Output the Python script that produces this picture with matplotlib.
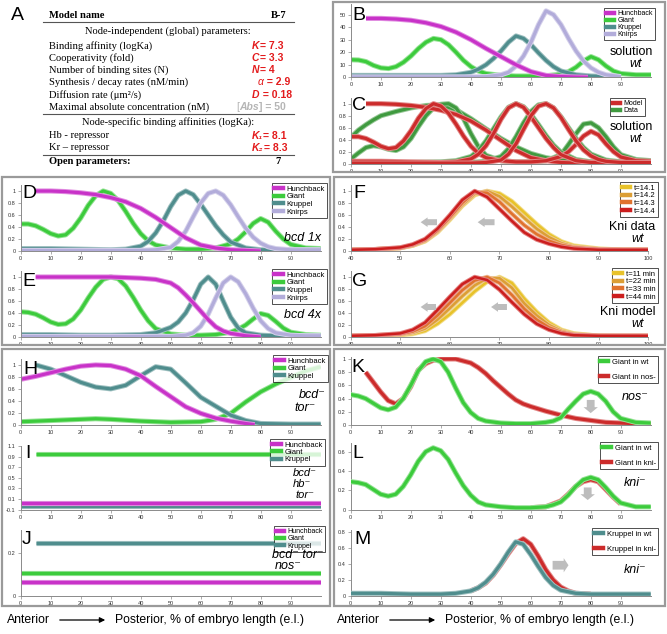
import matplotlib
matplotlib.use('Agg')
import matplotlib.pyplot as plt
import matplotlib.patheffects as pe
import matplotlib.colors as mcolors
from matplotlib.lines import Line2D
from matplotlib.patches import Rectangle, FancyArrow, FancyArrowPatch
from matplotlib.ticker import FuncFormatter

plt.rcParams['font.family'] = ['Liberation Sans', 'DejaVu Sans']

# colours
HB = '#C832C8'
GT = '#3CCB3C'
KR = '#4F8D8D'
KNI = '#B2ACDA'
RED = '#CC2B2B'
DGREEN = '#3F9A3F'
T1, T2, T3, T4 = '#E8C22A', '#DC9E35', '#E0722E', '#CC1E1E'

# ---------------- data ----------------
# B: wt solution, nM
b_hb_x = [5, 10, 15, 20, 25, 30, 35, 40, 45, 50, 55, 60, 65, 70, 75, 79]
b_hb_y = [47, 47, 46.5, 45.5, 43.5, 40.5, 36, 30, 23, 16.5, 10, 4.5, 1.5, 0.6, 0.2, 0]
b_gt_x = [0, 2.5, 5, 7.5, 10, 12.5, 15, 17.5, 20, 22.5, 25, 27.5, 30, 32.5, 35, 37.5, 40, 42.5, 45, 50,
          55, 60, 65, 70, 72.5, 75, 77.5, 80, 82.5, 85, 87.5, 90, 95, 100]
b_gt_y = [14, 13.8, 12.5, 9.5, 7.5, 7, 8.5, 12, 17, 23, 28, 31, 30, 26, 20, 13.5, 8.5, 5, 3, 1.5,
          1, 1, 1.2, 2.5, 4.5, 8, 13, 16.5, 14, 9, 5, 3, 2, 2]
b_kr_x = [0, 10, 20, 30, 35, 40, 42.5, 45, 47.5, 50, 52.5, 55, 57.5, 60, 62.5, 65, 67.5, 70, 75, 80, 85, 90]
b_kr_y = [1.5, 1.5, 1.5, 1.5, 2, 4, 6.5, 10, 15, 21, 28, 33, 31, 26, 19.5, 13.5, 8.5, 5, 2, 1, 0.6, 0.5]
b_kni_x = [0, 10, 20, 30, 40, 45, 50, 52.5, 55, 57.5, 60, 62.5, 65, 67.5, 70, 72.5, 75, 77.5, 80, 82.5, 85, 90]
b_kni_y = [0.3, 0.3, 0.3, 0.3, 0.3, 0.5, 2, 4, 9, 17, 28, 42, 53, 50, 42, 31, 21, 13, 7.5, 4, 2, 0.5]

# C: model (normalised) vs data
cm_hb_x = [5, 10, 15, 20, 25, 30, 35, 40, 45, 50, 55, 60, 65, 70, 75, 80]
cm_hb_y = [1.0, 1.0, 0.99, 0.97, 0.94, 0.89, 0.82, 0.71, 0.56, 0.39, 0.22, 0.1, 0.05, 0.02, 0.01, 0]
cm_gt_x = [0, 2.5, 5, 7.5, 10, 12.5, 15, 17.5, 20, 22.5, 25, 27.5, 30, 32.5, 35, 37.5, 40, 42.5, 45, 50,
           55, 60, 65, 70, 72.5, 75, 77.5, 80, 82.5, 85, 87.5, 90, 95, 100]
cm_gt_y = [0.45, 0.45, 0.42, 0.36, 0.29, 0.25, 0.27, 0.38, 0.55, 0.76, 0.92, 1.0, 0.96, 0.84, 0.66, 0.46,
           0.29, 0.17, 0.1, 0.05, 0.03, 0.03, 0.05, 0.12, 0.2, 0.32, 0.46, 0.54, 0.48, 0.33, 0.2, 0.11, 0.05, 0.04]
cm_kr_x = [0, 10, 20, 30, 35, 40, 42.5, 45, 47.5, 50, 52.5, 55, 57.5, 60, 62.5, 65, 67.5, 70, 75, 80, 85, 90, 100]
cm_kr_y = [0.04, 0.04, 0.03, 0.02, 0.03, 0.08, 0.16, 0.3, 0.5, 0.74, 0.93, 1.0, 0.94, 0.78, 0.6, 0.42, 0.27,
           0.15, 0.05, 0.02, 0.02, 0.02, 0.02]
cm_kni_x = [0, 10, 20, 30, 40, 45, 50, 52.5, 55, 57.5, 60, 62.5, 65, 67.5, 70, 72.5, 75, 77.5, 80, 82.5, 85,
            90, 95, 100]
cm_kni_y = [0.01, 0.01, 0.01, 0.01, 0.01, 0.02, 0.06, 0.16, 0.33, 0.57, 0.8, 0.96, 1.0, 0.93, 0.77, 0.57,
            0.38, 0.23, 0.13, 0.07, 0.04, 0.02, 0.02, 0.02]
cd_hb_x = [0, 2.5, 5, 7.5, 10, 15, 20, 25, 30, 35, 40, 45, 50, 55, 60, 65, 70, 75, 80, 90, 100]
cd_hb_y = [0.44, 0.56, 0.65, 0.73, 0.8, 0.87, 0.93, 0.97, 0.98, 0.9, 0.75, 0.58, 0.42, 0.28, 0.17, 0.1, 0.06,
           0.04, 0.03, 0.03, 0.03]
cd_gt_x = [0, 2.5, 5, 7.5, 10, 12.5, 15, 17.5, 20, 22.5, 25, 27.5, 30, 32.5, 35, 37.5, 40, 42.5, 45, 50,
           55, 60, 65, 70, 72.5, 75, 77.5, 80, 82.5, 85, 87.5, 90, 95, 100]
cd_gt_y = [0.08, 0.18, 0.27, 0.3, 0.28, 0.24, 0.22, 0.28, 0.42, 0.62, 0.8, 0.93, 0.99, 1.0, 0.93, 0.75,
           0.5, 0.28, 0.14, 0.05, 0.03, 0.03, 0.05, 0.15, 0.32, 0.5, 0.66, 0.68, 0.6, 0.45, 0.28, 0.15, 0.07, 0.05]
cd_kr_x = [0, 10, 20, 30, 35, 40, 42.5, 45, 47.5, 50, 52.5, 55, 57.5, 60, 62.5, 65, 67.5, 70, 75, 80, 90, 100]
cd_kr_y = [0.02, 0.02, 0.02, 0.03, 0.05, 0.12, 0.22, 0.38, 0.58, 0.78, 0.94, 1.0, 0.95, 0.82, 0.65, 0.47,
           0.31, 0.19, 0.07, 0.03, 0.02, 0.02]
cd_kni_x = [0, 10, 20, 30, 40, 45, 50, 52.5, 55, 57.5, 60, 62.5, 65, 67.5, 70, 72.5, 75, 77.5, 80, 85, 90, 100]
cd_kni_y = [0.02, 0.02, 0.02, 0.02, 0.02, 0.04, 0.12, 0.25, 0.45, 0.68, 0.87, 0.98, 1.0, 0.93, 0.78, 0.6,
            0.42, 0.27, 0.16, 0.06, 0.03, 0.02]

# E: bcd 4x
e_hb_x = [5, 10, 20, 30, 35, 40, 45, 50, 52.5, 55, 57.5, 60, 62.5, 65, 67.5, 70, 75, 80]
e_hb_y = [1.0, 1.0, 1.0, 1.0, 0.99, 0.98, 0.96, 0.9, 0.82, 0.7, 0.57, 0.43, 0.29, 0.17, 0.1, 0.06, 0.02, 0]
e_gt_x = cm_gt_x
e_gt_y = [0.42, 0.41, 0.38, 0.32, 0.25, 0.21, 0.22, 0.3, 0.45, 0.65, 0.83, 0.96, 1.0, 0.97, 0.85, 0.66,
          0.45, 0.27, 0.14, 0.05, 0.03, 0.03, 0.04, 0.08, 0.13, 0.2, 0.3, 0.39, 0.36, 0.26, 0.15, 0.08, 0.04, 0.03]
e_kr_x = [0, 10, 20, 30, 40, 45, 50, 52.5, 55, 57.5, 60, 62.5, 65, 67.5, 70, 72.5, 75, 80, 85, 90, 100]
e_kr_y = [0.04, 0.04, 0.03, 0.03, 0.04, 0.07, 0.16, 0.25, 0.4, 0.62, 0.88, 1.0, 0.88, 0.6, 0.33, 0.15,
          0.07, 0.03, 0.02, 0.02, 0.02]
e_kni_x = [0, 20, 40, 50, 55, 57.5, 60, 62.5, 65, 67.5, 70, 72.5, 75, 77.5, 80, 82.5, 85, 90, 95, 100]
e_kni_y = [0.01, 0.01, 0.01, 0.01, 0.03, 0.07, 0.18, 0.38, 0.65, 0.9, 1.0, 0.92, 0.72, 0.48, 0.27, 0.14,
           0.07, 0.03, 0.02, 0.02]

# F: Kni data at four time points
f_x = [40, 45, 50, 52.5, 55, 57.5, 60, 62.5, 65, 67.5, 70, 72.5, 75, 77.5, 80, 82.5, 85, 90, 95, 100]
f_t1 = [0.02, 0.03, 0.05, 0.09, 0.16, 0.31, 0.52, 0.75, 0.93, 1.0, 0.96, 0.83, 0.64, 0.45, 0.28, 0.16, 0.09, 0.04, 0.02, 0.02]
f_t2 = [0.02, 0.03, 0.05, 0.09, 0.17, 0.32, 0.54, 0.77, 0.95, 1.0, 0.91, 0.74, 0.55, 0.37, 0.23, 0.13, 0.07, 0.03, 0.02, 0.02]
f_t3 = [0.02, 0.03, 0.05, 0.1, 0.18, 0.34, 0.56, 0.8, 0.98, 0.97, 0.82, 0.62, 0.43, 0.28, 0.17, 0.1, 0.06, 0.03, 0.02, 0.02]
f_t4 = [0.02, 0.03, 0.06, 0.11, 0.2, 0.37, 0.6, 0.85, 1.0, 0.9, 0.7, 0.5, 0.31, 0.19, 0.12, 0.07, 0.04, 0.02, 0.02, 0.02]
f_labels = ['t=14.1', 't=14.2', 't=14.3', 't=14.4']

# G: Kni model at four time points
g_x = f_x
g_t1 = [0.01, 0.02, 0.03, 0.05, 0.1, 0.22, 0.38, 0.57, 0.76, 0.92, 1.0, 0.9, 0.64, 0.42, 0.24, 0.12, 0.06, 0.02, 0.01, 0.01]
g_t2 = [0.02, 0.02, 0.04, 0.07, 0.14, 0.29, 0.48, 0.68, 0.86, 0.98, 0.98, 0.82, 0.56, 0.36, 0.2, 0.1, 0.05, 0.02, 0.02, 0.02]
g_t3 = [0.02, 0.03, 0.05, 0.09, 0.18, 0.36, 0.57, 0.78, 0.94, 1.0, 0.9, 0.7, 0.47, 0.29, 0.16, 0.08, 0.04, 0.02, 0.02, 0.02]
g_t4 = [0.02, 0.03, 0.06, 0.12, 0.24, 0.45, 0.67, 0.88, 1.0, 0.95, 0.79, 0.58, 0.38, 0.22, 0.12, 0.06, 0.03, 0.02, 0.02, 0.02]
g_labels = ['t=11 min', 't=22 min', 't=33 min', 't=44 min']

# H: bcd- tor-
h_hb_x = [0, 5, 10, 15, 20, 25, 30, 35, 40, 45, 50, 55, 60, 65, 70, 75, 78]
h_hb_y = [0.76, 0.81, 0.87, 0.93, 0.98, 1.0, 0.99, 0.93, 0.82, 0.64, 0.47, 0.3, 0.19, 0.11, 0.06, 0.02, 0]
h_gt_x = [0, 10, 20, 25, 30, 40, 50, 60, 65, 70, 75, 80, 85, 90, 95, 100]
h_gt_y = [0.05, 0.07, 0.09, 0.1, 0.09, 0.06, 0.04, 0.05, 0.09, 0.19, 0.38, 0.55, 0.68, 0.79, 0.9, 0.97]
h_kr_x = [5, 10, 15, 20, 25, 30, 35, 40, 45, 50, 55, 60, 65, 70, 75, 80, 90, 100]
h_kr_y = [1.0, 0.93, 0.82, 0.71, 0.63, 0.6, 0.66, 0.82, 0.97, 0.93, 0.7, 0.46, 0.31, 0.16, 0.07, 0.02, 0.01, 0.01]

# I: bcd- hb- tor-  (flat profiles)
i_hb_x, i_hb_y = [0, 100], [0.02, 0.02]
i_gt_x, i_gt_y = [5, 100], [0.94, 0.94]
i_kr_x, i_kr_y = [0, 100], [-0.03, -0.03]

# J: bcd- tor- nos-  (flat profiles)
j_hb_x, j_hb_y = [0, 100], [0.062, 0.062]
j_gt_x, j_gt_y = [0, 100], [0.107, 0.107]
j_kr_x, j_kr_y = [5, 100], [0.246, 0.246]

# K: Giant in wt vs nos-
k_wt_x = [0, 2.5, 5, 7.5, 10, 12.5, 15, 17.5, 20, 22.5, 25, 27.5, 30, 32.5, 35, 37.5, 40, 42.5, 45, 50,
          55, 60, 65, 67.5, 70, 72.5, 75, 77.5, 80, 82.5, 85, 87.5, 90, 95, 100]
k_wt_y = [0.46, 0.44, 0.4, 0.33, 0.26, 0.23, 0.27, 0.4, 0.6, 0.82, 0.96, 1.0, 0.96, 0.8, 0.56, 0.34, 0.19,
          0.1, 0.06, 0.03, 0.02, 0.02, 0.04, 0.06, 0.11, 0.24, 0.36, 0.47, 0.51, 0.47, 0.36, 0.2, 0.1, 0.04, 0.03]
k_nos_x = [5, 7.5, 10, 12.5, 15, 17.5, 20, 22.5, 25, 27.5, 30, 35, 40, 42.5, 45, 47.5, 50, 52.5, 55, 57.5,
           60, 65, 70, 75, 80, 85, 90, 95, 100]
k_nos_y = [0.8, 0.65, 0.5, 0.37, 0.32, 0.4, 0.58, 0.83, 0.93, 0.98, 1.0, 1.0, 0.94, 0.87, 0.78, 0.67, 0.57,
           0.47, 0.38, 0.32, 0.28, 0.21, 0.15, 0.1, 0.07, 0.04, 0.03, 0.02, 0.02]

# L: Giant in wt vs kni-
l_wt_x = k_wt_x
l_wt_y = [0.29, 0.28, 0.26, 0.21, 0.16, 0.14, 0.16, 0.24, 0.36, 0.5, 0.6, 0.64, 0.61, 0.52, 0.38, 0.25,
          0.15, 0.08, 0.05, 0.03, 0.02, 0.02, 0.03, 0.05, 0.08, 0.15, 0.24, 0.31, 0.335, 0.31, 0.23, 0.14, 0.07, 0.03, 0.03]
l_kni_x = [60, 65, 67.5, 70, 72.5, 75, 77.5, 80, 82.5, 85, 87.5, 90]
l_kni_y = [0.02, 0.03, 0.06, 0.09, 0.16, 0.24, 0.29, 0.31, 0.29, 0.21, 0.13, 0.06]

# M: Kruppel in wt vs kni-
m_wt_x = [0, 10, 20, 30, 35, 40, 42.5, 45, 47.5, 50, 52.5, 55, 57.5, 60, 62.5, 65, 67.5, 70, 75, 80, 90, 100]
m_wt_y = [0.03, 0.03, 0.02, 0.02, 0.03, 0.06, 0.1, 0.17, 0.27, 0.4, 0.55, 0.68, 0.65, 0.52, 0.37, 0.23,
          0.13, 0.07, 0.03, 0.02, 0.02, 0.02]
m_kni_x = [40, 42.5, 45, 47.5, 50, 52.5, 55, 57.5, 60, 62.5, 65, 67.5, 70, 72.5, 75, 80]
m_kni_y = [0.06, 0.1, 0.16, 0.26, 0.39, 0.53, 0.66, 0.72, 0.65, 0.5, 0.33, 0.2, 0.11, 0.06, 0.03, 0.02]

genes4 = ['Hunchback', 'Giant', 'Kruppel', 'Knirps']
genes3 = ['Hunchback', 'Giant', 'Kruppel']

# table A
tab_global = ['Binding affinity (logKa)', 'Cooperativity (fold)', 'Number of binding sites (N)',
              'Synthesis / decay rates (nM/min)', 'Diffusion rate (\u03bcm\u00b2/s)',
              'Maximal absolute concentration (nM)']
tab_global_sym = ['K', 'C', 'N', '\u03b1', 'D', 'Abs']
tab_global_val = ['= 7.3', '= 3.3', '= 4', ' = 2.9', ' = 0.18', '] = 50']
tab_node = ['Hb - repressor', 'Kr \u2013 repressor']
tab_node_sym = ['K\u2081', 'K\u2082']
tab_node_val = ['= 8.1', '= 8.3']

# ---------------- figure ----------------
W, H = 667, 634
fig = plt.figure(figsize=(W / 100, H / 100), dpi=100)

# overlay in pixel coords for frames, table and free text
ov = fig.add_axes([0, 0, 1, 1], zorder=5)
ov.set_xlim(0, W)
ov.set_ylim(H, 0)
ov.axis('off')
ov.patch.set_alpha(0)


def new_ax(l, t, r, b):
    return fig.add_axes([l / W, 1 - b / H, (r - l) / W, (b - t) / H])


def fmt(v, pos):
    return '%g' % round(v, 2)


def style(ax, xlim, xticks, ylim, yticks):
    ax.set_xlim(*xlim)
    ax.set_ylim(*ylim)
    ax.set_xticks(xticks)
    ax.set_yticks(yticks)
    ax.xaxis.set_major_formatter(FuncFormatter(fmt))
    ax.yaxis.set_major_formatter(FuncFormatter(fmt))
    for s in ('top', 'right'):
        ax.spines[s].set_visible(False)
    for s in ('left', 'bottom'):
        ax.spines[s].set_color('#8a8a8a')
        ax.spines[s].set_linewidth(0.7)
    ax.tick_params(labelsize=4, length=2, width=0.5, color='#8a8a8a', labelcolor='#333333', pad=1.5)
    ax.patch.set_alpha(0)


def curve(ax, x, y, color, lw=2.3, z=2):
    light = tuple(0.45 + 0.55 * c for c in mcolors.to_rgb(color))
    ax.plot(x, y, color=color, lw=lw, zorder=z, solid_capstyle='butt',
            path_effects=[pe.Stroke(linewidth=lw + 1.4, foreground=light), pe.Normal()])


def legend(ax, labels, colors, right, top, fs=5.5, sp=0.05):
    handles = [Line2D([], [], color=c, lw=3.2) for c in colors]
    leg = ax.legend(handles, labels, loc='upper right', bbox_to_anchor=(right, top),
                    bbox_transform=ov.transData, fontsize=fs, frameon=True, fancybox=False,
                    edgecolor='black', handlelength=1.1, handletextpad=0.5, labelspacing=sp,
                    borderpad=0.3, borderaxespad=0)
    leg.get_frame().set_linewidth(0.6)
    leg.set_zorder(10)


def letter(x, y, s):
    ov.text(x, y, s, fontsize=14, ha='center', va='center')


def block_arrow(ax, x, y, dx, dy, w, hw, hl):
    ax.add_patch(FancyArrow(x, y, dx, dy, width=w, head_width=hw, head_length=hl,
                            length_includes_head=True, color='#BDBDBD', lw=0, zorder=3))


x100 = list(range(0, 100, 10))
x_f = list(range(40, 101, 10))
y_unit = [0, 0.2, 0.4, 0.6, 0.8, 1]

# frames
for l, t, r, b in [(333, 2, 665, 172), (2, 177, 330, 345), (334, 177, 665, 345),
                   (2, 349, 330, 606), (334, 349, 665, 606)]:
    ov.add_patch(Rectangle((l, t), r - l, b - t, fill=False, edgecolor='#9a9a9a', lw=1.6))

# ---- A: table ----
serif = ['Liberation Serif', 'DejaVu Serif']
RV = '#E31A1C'
letter(17, 16, 'A')
ov.text(49, 16, 'Model name', family=serif, fontsize=7.6, fontweight='bold', va='center')
ov.text(287, 16, 'B-7', family=serif, fontsize=7.6, fontweight='bold', va='center', ha='right')
for yy in (22, 114, 155):
    ov.plot([43, 294], [yy, yy], color='#555555', lw=0.8)
ov.text(168, 31, 'Node-independent (global) parameters:', family=serif, fontsize=7.6, ha='center', va='center')
ov.text(168, 122, 'Node-specific binding affinities (logKa):', family=serif, fontsize=7.6, ha='center', va='center')
ov.text(49, 162, 'Open parameters:', family=serif, fontsize=7.6, fontweight='bold', va='center')
ov.text(278, 162, '7', family=serif, fontsize=7.6, fontweight='bold', va='center', ha='center')

rows_y = [46, 58, 70, 82, 95, 107]
for k in range(len(tab_global)):
    ov.text(49, rows_y[k], tab_global[k], family=serif, fontsize=7.6, va='center')
    sym, val = tab_global_sym[k], tab_global_val[k]
    if sym == 'Abs':
        t0 = ov.text(236, rows_y[k], '[', fontsize=7.5, color='#B5B5B5', va='center')
        t1 = ov.annotate(sym, xy=(1, 0), xycoords=t0, va='bottom', fontsize=7.5, color='#B5B5B5',
                         fontweight='bold', fontstyle='italic')
        ov.annotate(val, xy=(1, 0), xycoords=t1, va='bottom', fontsize=7.5, color='#B5B5B5', fontweight='bold')
    else:
        x0 = 258 if sym == '\u03b1' else 252
        t1 = ov.text(x0, rows_y[k], sym, fontsize=7.5, color=RV, va='center', fontstyle='italic',
                     fontweight='normal' if sym == '\u03b1' else 'bold')
        ov.annotate(val, xy=(1, 0), xycoords=t1, va='bottom', fontsize=7.5, color=RV, fontweight='bold')

rows_y2 = [136, 148]
for k in range(len(tab_node)):
    ov.text(49, rows_y2[k], tab_node[k], family=serif, fontsize=7.6, va='center')
    t1 = ov.text(252, rows_y2[k], tab_node_sym[k], fontsize=7.5, color=RV, va='center',
                 fontstyle='italic', fontweight='bold')
    ov.annotate(tab_node_val[k], xy=(1, 0), xycoords=t1, va='bottom', fontsize=7.5, color=RV, fontweight='bold')

# ---- B ----
ax = new_ax(351, 4, 651, 77.3)
style(ax, (0, 100), x100, (0, 58.5), [0, 10, 20, 30, 40, 50])
curve(ax, b_gt_x, b_gt_y, GT)
curve(ax, b_kr_x, b_kr_y, KR)
curve(ax, b_kni_x, b_kni_y, KNI)
curve(ax, b_hb_x, b_hb_y, HB)
legend(ax, genes4, [HB, GT, KR, KNI], 655, 8.3, fs=5, sp=0.0)
letter(359, 16, 'B')
ov.text(631, 52, 'solution', fontsize=9, ha='center', va='center')
ov.text(636, 64, 'wt', fontsize=9, ha='center', va='center', fontstyle='italic')

# ---- C ----
ax = new_ax(351, 97.7, 651, 163.7)
style(ax, (0, 100), x100, (0, 1.1), y_unit)
for xx, yy in [(cd_hb_x, cd_hb_y), (cd_gt_x, cd_gt_y), (cd_kr_x, cd_kr_y), (cd_kni_x, cd_kni_y)]:
    curve(ax, xx, yy, DGREEN)
for xx, yy in [(cm_hb_x, cm_hb_y), (cm_gt_x, cm_gt_y), (cm_kr_x, cm_kr_y), (cm_kni_x, cm_kni_y)]:
    curve(ax, xx, yy, RED)
legend(ax, ['Model', 'Data'], [RED, DGREEN], 645, 98, fs=5, sp=0.0)
letter(359, 106, 'C')
ov.text(631, 127, 'solution', fontsize=9, ha='center', va='center')
ov.text(636, 139, 'wt', fontsize=9, ha='center', va='center', fontstyle='italic')

# ---- D ----
ax = new_ax(20.7, 185, 320.7, 251)
style(ax, (0, 100), x100, (0, 1.1), y_unit)
curve(ax, cm_gt_x, cm_gt_y, GT)
curve(ax, cm_kr_x, cm_kr_y, KR)
curve(ax, cm_kni_x, cm_kni_y, KNI)
curve(ax, cm_hb_x, cm_hb_y, HB)
legend(ax, genes4, [HB, GT, KR, KNI], 327, 183)
letter(29, 193, 'D')
ov.text(302, 238, 'bcd 1x', fontsize=9, ha='center', va='center', fontstyle='italic')

# ---- E ----
ax = new_ax(20.7, 271, 320.7, 337)
style(ax, (0, 100), x100, (0, 1.1), y_unit)
curve(ax, e_gt_x, e_gt_y, GT)
curve(ax, e_kr_x, e_kr_y, KR)
curve(ax, e_kni_x, e_kni_y, KNI)
curve(ax, e_hb_x, e_hb_y, HB)
legend(ax, genes4, [HB, GT, KR, KNI], 327, 269)
letter(29, 282, 'E')
ov.text(302, 315, 'bcd 4x', fontsize=9, ha='center', va='center', fontstyle='italic')

# ---- F ----
ax = new_ax(350.7, 185, 648.3, 251)
style(ax, (40, 100), x_f, (0, 1.1), y_unit)
for yy, c in zip([f_t1, f_t2, f_t3, f_t4], [T1, T2, T3, T4]):
    curve(ax, f_x, yy, c, lw=1.8)
block_arrow(ax, 57.4, 0.48, -3.3, 0, 0.1, 0.16, 1.4)
block_arrow(ax, 69.0, 0.48, -3.4, 0, 0.1, 0.16, 1.4)
legend(ax, f_labels, [T1, T2, T3, T4], 658, 182)
letter(359, 193, 'F')
ov.text(632, 227, 'Kni data', fontsize=9, ha='center', va='center')
ov.text(638, 239, 'wt', fontsize=9, ha='center', va='center', fontstyle='italic')

# ---- G ----
ax = new_ax(350.7, 271, 648.3, 337)
style(ax, (40, 100), x_f, (0, 1.1), y_unit)
for yy, c in zip([g_t1, g_t2, g_t3, g_t4], [T1, T2, T3, T4]):
    curve(ax, g_x, yy, c, lw=1.8)
block_arrow(ax, 57.2, 0.5, -3.1, 0, 0.1, 0.16, 1.4)
block_arrow(ax, 71.5, 0.5, -3.2, 0, 0.1, 0.16, 1.4)
legend(ax, g_labels, [T1, T2, T3, T4], 658, 268)
letter(360, 282, 'G')
ov.text(628, 312, 'Kni model', fontsize=9, ha='center', va='center')
ov.text(638, 324, 'wt', fontsize=9, ha='center', va='center', fontstyle='italic')

# ---- H ----
ax = new_ax(20.7, 359, 320.7, 424.7)
style(ax, (0, 100), x100, (0, 1.1), y_unit)
curve(ax, h_gt_x, h_gt_y, GT)
curve(ax, h_kr_x, h_kr_y, KR)
curve(ax, h_hb_x, h_hb_y, HB)
legend(ax, genes3, [HB, GT, KR], 328, 355)
letter(30, 369, 'H')
ov.text(312, 395, 'bcd\u207b', fontsize=9, ha='center', va='center', fontstyle='italic')
ov.text(305, 408, 'tor\u207b', fontsize=9, ha='center', va='center', fontstyle='italic')

# ---- I ----
ax = new_ax(20.7, 446, 320.7, 509.7)
style(ax, (0, 100), x100, (-0.1, 1.1), [-0.1, 0.1, 0.3, 0.5, 0.7, 0.9, 1.1])
curve(ax, i_kr_x, i_kr_y, KR)
curve(ax, i_hb_x, i_hb_y, HB)
curve(ax, i_gt_x, i_gt_y, GT)
legend(ax, genes3, [HB, GT, KR], 325, 439, fs=5.5, sp=0.0)
letter(28, 453, 'I')
ov.text(305, 473, 'bcd\u207b', fontsize=8, ha='center', va='center', fontstyle='italic')
ov.text(302, 484, 'hb\u207b', fontsize=8, ha='center', va='center', fontstyle='italic')
ov.text(305, 495, 'tor\u207b', fontsize=8, ha='center', va='center', fontstyle='italic')

# ---- J ----
ax = new_ax(20.7, 530, 320.7, 595.7)
style(ax, (0, 100), x100, (0, 0.305), [0, 0.2])
curve(ax, j_hb_x, j_hb_y, HB)
curve(ax, j_gt_x, j_gt_y, GT)
curve(ax, j_kr_x, j_kr_y, KR)
legend(ax, genes3, [HB, GT, KR], 325, 526, fs=5)
letter(27, 539, 'J')
ov.text(298, 555, 'bcd\u207b tor\u207b', fontsize=9, ha='center', va='center', fontstyle='italic')
ov.text(288, 566, 'nos\u207b', fontsize=9, ha='center', va='center', fontstyle='italic')

# ---- K ----
ax = new_ax(350.7, 357, 650.7, 425)
style(ax, (0, 100), x100, (0, 1.03), y_unit)
curve(ax, k_nos_x, k_nos_y, RED, z=2)
curve(ax, k_wt_x, k_wt_y, GT, z=3)
block_arrow(ax, 80, 0.38, 0, -0.2, 2.6, 4.8, 0.09)
legend(ax, ['Giant in wt', 'Giant in nos-'], [GT, RED], 658, 356, sp=1.0)
letter(358, 367, 'K')
ov.text(635, 397, 'nos\u207b', fontsize=9, ha='center', va='center', fontstyle='italic')

# ---- L ----
ax = new_ax(350.7, 443, 650.7, 509.7)
style(ax, (0, 100), x100, (0, 0.69), [0, 0.2, 0.4, 0.6])
curve(ax, l_kni_x, l_kni_y, RED, z=2)
curve(ax, l_wt_x, l_wt_y, GT, z=3)
block_arrow(ax, 79, 0.23, 0, -0.13, 2.6, 4.8, 0.06)
legend(ax, ['Giant in wt', 'Giant in kni-'], [GT, RED], 658, 442, sp=1.0)
letter(358, 453, 'L')
ov.text(635, 483, 'kni\u207b', fontsize=9, ha='center', va='center', fontstyle='italic')

# ---- M ----
ax = new_ax(350.7, 530, 650.7, 595.7)
style(ax, (0, 100), x100, (0, 0.83), [0, 0.2, 0.4, 0.6, 0.8])
curve(ax, m_kni_x, m_kni_y, RED, z=2)
curve(ax, m_wt_x, m_wt_y, KR, z=3)
block_arrow(ax, 67.3, 0.385, 5.3, 0, 0.11, 0.18, 1.6)
legend(ax, ['Kruppel in wt', 'Kruppel in kni-'], [KR, RED], 658, 528, sp=1.0)
letter(362, 540, 'M')
ov.text(635, 570, 'kni\u207b', fontsize=9, ha='center', va='center', fontstyle='italic')

# bottom axis captions
for x0 in (7, 337):
    ov.text(x0, 620, 'Anterior', fontsize=8.8, va='center')
    ov.add_patch(FancyArrowPatch((x0 + 50, 620), (x0 + 101, 620), arrowstyle='-|>', mutation_scale=8,
                                 lw=0.9, color='black'))
    ov.text(x0 + 108, 620, 'Posterior, % of embryo length (e.l.)', fontsize=8.8, va='center')

fig.savefig('out.png', dpi=100)
